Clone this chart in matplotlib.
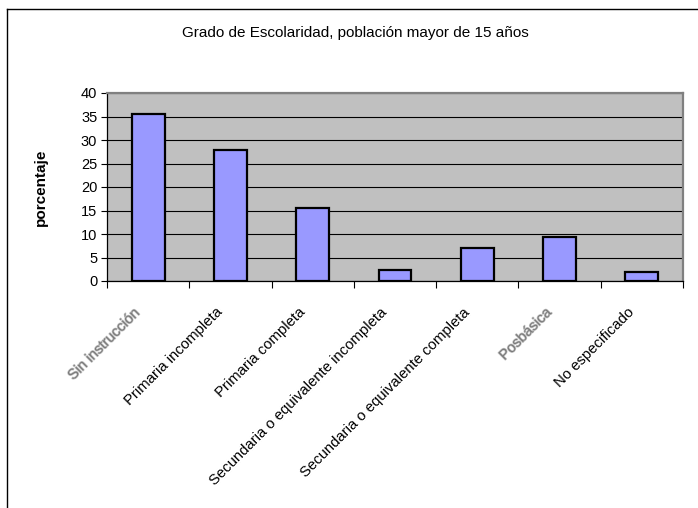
import matplotlib
matplotlib.use("Agg")
import matplotlib.pyplot as plt
from matplotlib.lines import Line2D
from matplotlib.ticker import FixedLocator, NullFormatter
from matplotlib.transforms import ScaledTranslation
import matplotlib.patheffects as pe
import numpy as np

plt.rcParams['font.family'] = ['Liberation Sans', 'DejaVu Sans']

categories = ["Sin instrucción", "Primaria incompleta", "Primaria completa",
              "Secundaria o equivalente incompleta", "Secundaria o equivalente completa",
              "Posbásica", "No especificado"]
values = [35.5, 27.8, 15.5, 2.3, 7.1, 9.3, 1.9]
faded = ["Sin instrucción", "Posbásica"]
yticks = [0, 5, 10, 15, 20, 25, 30, 35, 40]
title = "Grado de Escolaridad, población mayor de 15 años"
ylabel = "porcentaje"

W, H = 698, 508
DPI = 100
fig = plt.figure(figsize=(W / DPI, H / DPI), dpi=DPI)
fig.patch.set_facecolor('white')

# frame lines (top and left)
fig.add_artist(Line2D([7 / W, 1.0], [1 - 9 / H, 1 - 9 / H], color='black', lw=1.0, transform=fig.transFigure))
fig.add_artist(Line2D([7 / W, 7 / W], [0.0, 1 - 9 / H], color='black', lw=1.0, transform=fig.transFigure))

left, right, top, bottom = 107, 683, 93, 281
ax = fig.add_axes([left / W, 1 - bottom / H, (right - left) / W, (bottom - top) / H])
ax.set_facecolor('#C0C0C0')

x = np.arange(len(categories))
ax.bar(x, values, width=0.4, color='#9999FF', edgecolor='black', linewidth=1.6, zorder=3)

ax.set_xlim(-0.5, len(categories) - 0.5)
ax.set_ylim(0, 40)
ax.set_yticks(yticks)
ax.set_yticklabels([str(v) for v in yticks], fontsize=10.5)
ax.yaxis.grid(True, color='black', linewidth=0.8, zorder=1)
ax.set_axisbelow(True)

ax.xaxis.set_major_locator(FixedLocator(np.arange(len(categories) + 1) - 0.5))
ax.xaxis.set_major_formatter(NullFormatter())
ax.tick_params(axis='x', which='major', length=5, width=0.8, direction='out')
ax.tick_params(axis='y', length=4, width=0.8, direction='out', pad=3)

# rotated category labels, anchored at their right end below each bar
off = ScaledTranslation(-10 / DPI, -29 / DPI, fig.dpi_scale_trans)
for xi, cat in zip(x, categories):
    if cat in faded:
        ax.text(xi, 0, cat, transform=ax.get_xaxis_transform() + off,
                rotation=45, ha='right', va='center', rotation_mode='anchor',
                fontsize=10.5, color='#7a7a7a',
                path_effects=[pe.withStroke(linewidth=1.0, foreground='#c4c4c4')])
    else:
        ax.text(xi, 0, cat, transform=ax.get_xaxis_transform() + off,
                rotation=45, ha='right', va='center', rotation_mode='anchor',
                fontsize=10.7, color='black')

for s in ['top', 'right']:
    ax.spines[s].set_color('#808080')
    ax.spines[s].set_linewidth(1.6)
for s in ['left', 'bottom']:
    ax.spines[s].set_color('black')
    ax.spines[s].set_linewidth(0.9)

ax.set_ylabel(ylabel, fontsize=11, fontweight='bold')
ax.yaxis.set_label_coords(-(left - 48) / (right - left), 0.5)

fig.text(355 / W, 1 - 33 / H, title, ha='center', va='center', fontsize=11)

fig.savefig('out.png', dpi=DPI)
